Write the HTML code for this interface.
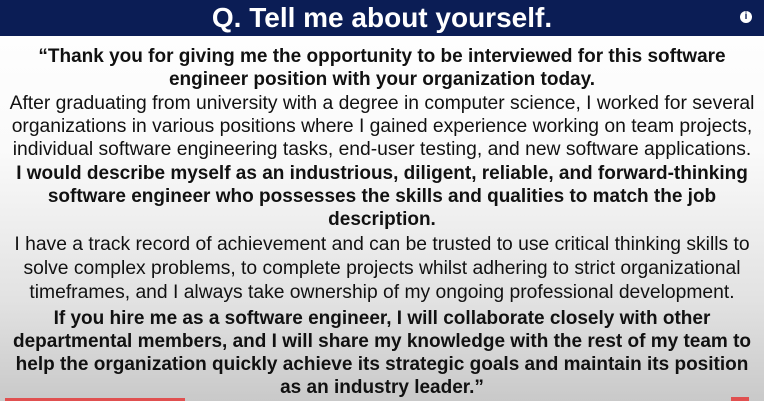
<!DOCTYPE html>
<html><head><meta charset="utf-8"><style>
html,body{margin:0;padding:0}
body{width:764px;height:401px;overflow:hidden;position:relative;font-family:"Liberation Sans",Arial,sans-serif;background:linear-gradient(#ffffff 0px,#fafafa 150px,#e2e2e2 300px,#c9c9c9 401px);color:#111}
#hdr{position:absolute;left:0;top:0;width:764px;height:36px;background:#0b1d55;color:#fff;font-weight:bold;font-size:28px;text-align:center;line-height:36px}
#info{position:absolute;right:12px;top:11px;width:12px;height:12px;border-radius:50%;background:#fff;color:#0b1d55;font-size:10px;line-height:12px;text-align:center;font-weight:bold}
.l{position:absolute;left:0;width:764px;text-align:center;white-space:nowrap;font-size:19.3px;line-height:22px}
.b{font-weight:bold;font-size:19px}
</style></head><body>
<div id="hdr">Q. Tell me about yourself.</div>
<div id="info">i</div>
<div>
<div class="l b" style="top:46px">“Thank you for giving me the opportunity to be interviewed for this software</div>
<div class="l b" style="top:69px">engineer position with your organization today.</div>
<div class="l" style="top:93px">After graduating from university with a degree in computer science, I worked for several</div>
<div class="l" style="top:116px">organizations in various positions where I gained experience working on team projects,</div>
<div class="l" style="top:139px">individual software engineering tasks, end-user testing, and new software applications.</div>
<div class="l b" style="top:163px">I would describe myself as an industrious, diligent, reliable, and forward-thinking</div>
<div class="l b" style="top:186px">software engineer who possesses the skills and qualities to match the job</div>
<div class="l b" style="top:209px">description.</div>
<div class="l" style="top:234px">I have a track record of achievement and can be trusted to use critical thinking skills to</div>
<div class="l" style="top:258px">solve complex problems, to complete projects whilst adhering to strict organizational</div>
<div class="l" style="top:282px">timeframes, and I always take ownership of my ongoing professional development.</div>
<div class="l b" style="top:308px">If you hire me as a software engineer, I will collaborate closely with other</div>
<div class="l b" style="top:331px">departmental members, and I will share my knowledge with the rest of my team to</div>
<div class="l b" style="top:354px">help the organization quickly achieve its strategic goals and maintain its position</div>
<div class="l b" style="top:377px">as an industry leader.”</div>
</div>
<div style="position:absolute;left:5px;top:398px;width:180px;height:3px;background:#e05050"></div>
<div style="position:absolute;left:731px;top:397px;width:18px;height:4px;background:#e05050"></div>
</body></html>
